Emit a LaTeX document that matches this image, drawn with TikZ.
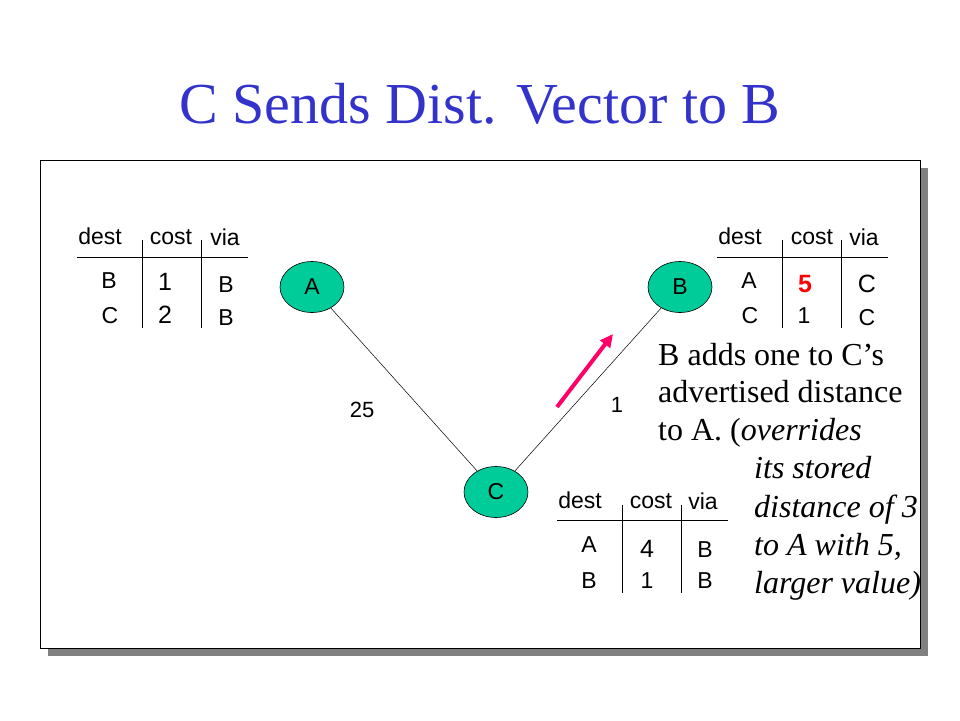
\documentclass[tikz,border=0pt]{standalone}
\usepackage{fontspec}
\setmainfont{Liberation Serif}
\setsansfont{Liberation Sans}
\usetikzlibrary{shapes.geometric,arrows.meta}
\definecolor{titleblue}{RGB}{51,51,204}
\definecolor{nodegreen}{RGB}{0,204,153}
\definecolor{arrowpink}{RGB}{255,0,102}
\definecolor{redfive}{RGB}{255,0,0}
\definecolor{shadowgray}{RGB}{128,128,128}
\begin{document}
\begin{tikzpicture}[x=1pt,y=-1pt,
  tab/.style={font=\sffamily\fontsize{23pt}{27pt}\selectfont, inner sep=0pt, anchor=base},
  tabbig/.style={font=\sffamily\fontsize{25pt}{29pt}\selectfont, inner sep=0pt, anchor=base},
  rule/.style={line width=0.9pt, black},
  router/.style={ellipse, draw=black, line width=0.6pt, fill=nodegreen, minimum width=64pt, minimum height=51pt, inner sep=0pt, font=\sffamily\fontsize{23pt}{27pt}\selectfont},
  edge/.style={line width=0.5pt, black},
  body/.style={font=\fontsize{32pt}{38pt}\selectfont, inner sep=0pt, anchor=base west},
  lbl/.style={font=\sffamily\fontsize{22pt}{26pt}\selectfont, inner sep=0pt}]
\useasboundingbox (0,0) rectangle (960,720);
\fill[white] (0,0) rectangle (960,720);
% title
\node[font=\fontsize{58pt}{64pt}\selectfont, text=titleblue, inner sep=0pt, anchor=base] (title) at (480,123) {C Sends Dist. Vector to B};
% frame with shadow
\fill[shadowgray] (48,168) rectangle (928,656);
\draw[fill=white, line width=1pt] (40,160) rectangle (920,648);
% routers
\node[router] (A) at (312,287) {A};
\node[router] (B) at (680,287) {B};
\node[router] (C) at (496,492) {C};
\draw[edge] (A) -- (C);
\draw[edge] (B) -- (C);
\node[lbl] (l25) at (362,410) {25};
\node[lbl] (l1) at (617,405) {1};
% pink arrow
\coordinate (ptail) at (557,407);
\coordinate (phead) at (613,334);
\draw[arrowpink, line width=4pt, -{Triangle[length=13pt,width=12pt]}] (ptail) -- (phead);
% left table (A)
\node[tab] (ad) at (100,244) {dest};
\node[tab] (ac) at (171,244) {cost};
\node[tab] (av) at (225,245) {via};
\draw[rule] (77,257) -- (248,257);
\draw[rule] (142,240) -- (142,328);
\draw[rule] (201,240) -- (201,328);
\node[tab] (ar1d) at (109,288) {B};
\node[tabbig] (ar1c) at (165,290) {1};
\node[tab] (ar1v) at (226,292) {B};
\node[tab] (ar2d) at (110,323) {C};
\node[tabbig] (ar2c) at (165,323) {2};
\node[tab] (ar2v) at (226,325) {B};
% right table (B)
\node[tab] (bd) at (740,244) {dest};
\node[tab] (bc) at (812,244) {cost};
\node[tab] (bv) at (864,245) {via};
\draw[rule] (717,257) -- (888,257);
\draw[rule] (782,240) -- (782,328);
\draw[rule] (841,240) -- (841,328);
\node[tab] (br1d) at (749,288) {A};
\node[font=\sffamily\bfseries\fontsize{25pt}{29pt}\selectfont, text=redfive, inner sep=0pt, anchor=base] (br1c) at (805,292) {5};
\node[tabbig] (br1v) at (867,292) {C};
\node[tab] (br2d) at (750,323) {C};
\node[tab] (br2c) at (804,323) {1};
\node[tab] (br2v) at (867,325) {C};
% bottom table (C)
\node[tab] (cd) at (580,508) {dest};
\node[tab] (cc) at (651,508) {cost};
\node[tab] (cv) at (703,509) {via};
\draw[rule] (557,520) -- (728,520);
\draw[rule] (622,505) -- (622,593);
\draw[rule] (681,505) -- (681,593);
\node[tab] (cr1d) at (589,552) {A};
\node[tabbig] (cr1c) at (647,557) {4};
\node[tab] (cr1v) at (705,557) {B};
\node[tab] (cr2d) at (589,588) {B};
\node[tab] (cr2c) at (647,588) {1};
\node[tab] (cr2v) at (705,588) {B};
% explanation text
\node[body] (t1) at (658,365) {B adds one to C’s};
\node[body] (t2) at (658,402) {advertised distance};
\node[body] (t3) at (658,440) {to A. (\textit{overrides}};
\node[body] (t4) at (754,478) {\textit{its stored}};
\node[body] (t5) at (754,517) {\textit{distance of 3}};
\node[body] (t6) at (754,555) {\textit{to A with 5,}};
\node[body] (t7) at (754,593) {\textit{larger value)}};
\end{tikzpicture}
\end{document}
